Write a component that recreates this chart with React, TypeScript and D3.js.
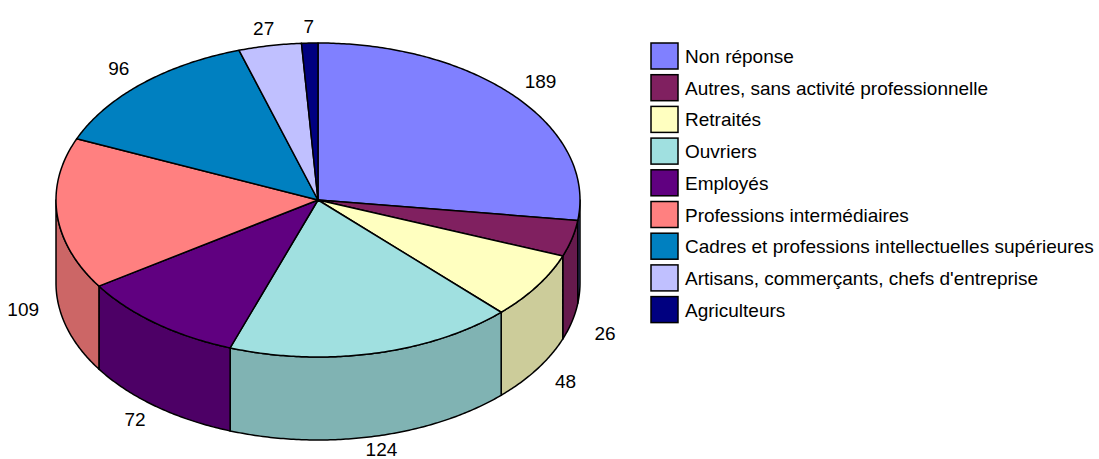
import React from "react";
import * as d3 from "d3";

const categories = [
  "Non réponse",
  "Autres, sans activité professionnelle",
  "Retraités",
  "Ouvriers",
  "Employés",
  "Professions intermédiaires",
  "Cadres et professions intellectuelles supérieures",
  "Artisans, commerçants, chefs d'entreprise",
  "Agriculteurs",
];
const values = [189, 26, 48, 124, 72, 109, 96, 27, 7];
const colors = [
  "#8080ff",
  "#802060",
  "#ffffc0",
  "#a0e0e0",
  "#600080",
  "#ff8080",
  "#0080c0",
  "#c0c0ff",
  "#000080",
];

const W = 1099;
const H = 459;
const cx = 318;
const cy = 200;
const rx = 262;
const ry = 157;
const depth = 83;
const FONT = "'Liberation Sans', Arial, Helvetica, sans-serif";

function shade(c: string, k: number) {
  const r = d3.rgb(c);
  return d3.rgb(r.r * k, r.g * k, r.b * k).formatHex();
}

export default function App() {
  const arcs = d3
    .pie<number>()
    .sort(null)
    .value((d) => d)(values);

  const pt = (a: number, dy = 0): [number, number] => [
    cx + rx * Math.sin(a),
    cy - ry * Math.cos(a) + dy,
  ];
  const arcPts = (a0: number, a1: number, dy: number) => {
    const n = Math.max(2, Math.ceil((a1 - a0) / 0.01));
    return d3.range(n + 1).map((i) => pt(a0 + ((a1 - a0) * i) / n, dy));
  };
  const line = d3.line();

  const walls = arcs
    .map((a, i) => {
      const b0 = Math.max(a.startAngle, Math.PI / 2);
      const b1 = Math.min(a.endAngle, (3 * Math.PI) / 2);
      if (b1 <= b0) return null;
      const pts = arcPts(b0, b1, 0).concat(arcPts(b0, b1, depth).reverse());
      return { i, d: line(pts) + "Z" };
    })
    .filter(Boolean) as { i: number; d: string }[];

  const tops = arcs.map((a, i) => {
    const pts: [number, number][] = [[cx, cy], ...arcPts(a.startAngle, a.endAngle, 0)];
    return { i, d: line(pts) + "Z" };
  });

  const labels = arcs.map((a, i) => {
    const mid = (a.startAngle + a.endAngle) / 2;
    const c = Math.cos(mid);
    const x = cx + (rx + 34) * Math.sin(mid);
    const away = 12 * (1 - Math.abs(c));
    const y =
      c < 0
        ? cy - (ry + 13) * c + depth + away
        : cy - (ry + 17) * c - away;
    return { i, x, y, v: values[i] };
  });

  const legX = 651;
  const legY = 43;
  const legStep = 31.7;

  return (
    <svg
      width={W}
      height={H}
      style={{ position: "absolute", left: 0, top: 0, background: "#fff" }}
      fontFamily={FONT}
    >
      <rect width={W} height={H} fill="#fff" />
      {walls.map((w) => (
        <path
          key={"w" + w.i}
          d={w.d}
          fill={shade(colors[w.i], 0.8)}
          stroke="#000"
          strokeWidth={1.5}
          strokeLinejoin="round"
        />
      ))}
      {tops.map((t) => (
        <path
          key={"t" + t.i}
          d={t.d}
          fill={colors[t.i]}
          stroke="#000"
          strokeWidth={1.5}
          strokeLinejoin="round"
        />
      ))}
      {labels.map((l) => (
        <text
          key={"l" + l.i}
          x={l.x}
          y={l.y}
          dy="0.35em"
          textAnchor="middle"
          fontSize={19}
          fill="#000"
        >
          {l.v}
        </text>
      ))}
      {categories.map((c, i) => (
        <g key={"g" + i} transform={`translate(${legX},${legY + i * legStep})`}>
          <rect
            x={0}
            y={0}
            width={27}
            height={26}
            fill={colors[i]}
            stroke="#000"
            strokeWidth={1.5}
          />
          <text x={34} y={20} fontSize={19} fill="#000">
            {c}
          </text>
        </g>
      ))}
    </svg>
  );
}
